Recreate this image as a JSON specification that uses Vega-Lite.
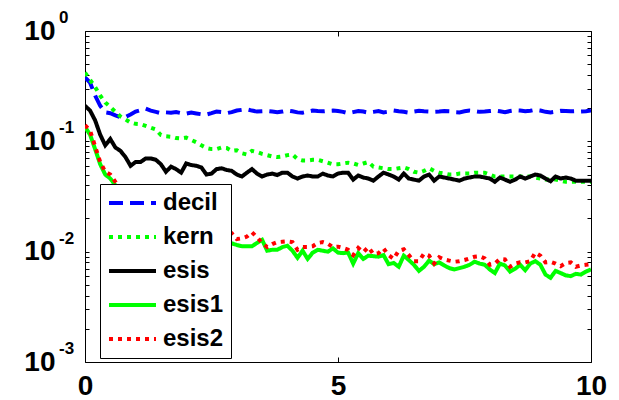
{
  "$schema": "https://vega.github.io/schema/vega-lite/v6.json",
  "width": 506,
  "height": 331,
  "autosize": {"type": "none"},
  "padding": {"left": 85, "top": 31, "right": 28, "bottom": 38},
  "background": "white",
  "config": {
    "view": {"stroke": null},
    "axis": {"domainColor": "black", "domainWidth": 1, "tickColor": "black", "tickWidth": 1, "grid": false, "labelFont": "Liberation Sans", "labelFontWeight": "bold", "labelFontSize": 28, "labelColor": "black"}
  },
  "layer": [
    {
      "data": {"values": [
        {"x":0,"decil":0.38,"kern":0.42,"esis":0.21,"esis1":0.135,"esis2":0.14},
        {"x":0.1,"decil":0.34,"kern":0.36,"esis":0.19,"esis1":0.115,"esis2":0.125},
        {"x":0.2,"decil":0.26,"kern":0.31,"esis":0.155,"esis1":0.085,"esis2":0.09},
        {"x":0.3,"decil":0.21,"kern":0.26,"esis":0.115,"esis1":0.062,"esis2":0.065},
        {"x":0.4,"decil":0.183,"kern":0.225,"esis":0.092,"esis1":0.05,"esis2":0.053},
        {"x":0.5,"decil":0.18,"kern":0.205,"esis":0.105,"esis1":0.046,"esis2":0.05},
        {"x":0.6,"decil":0.172,"kern":0.185,"esis":0.088,"esis1":0.04,"esis2":0.043},
        {"x":0.7,"decil":0.166,"kern":0.168,"esis":0.082,"esis1":0.035,"esis2":0.037},
        {"x":0.8,"decil":0.166,"kern":0.158,"esis":0.072,"esis1":0.03,"esis2":0.032},
        {"x":0.9,"decil":0.175,"kern":0.148,"esis":0.06,"esis1":0.027,"esis2":0.029},
        {"x":1,"decil":0.186,"kern":0.144,"esis":0.065,"esis1":0.024,"esis2":0.026},
        {"x":1.1,"decil":0.192,"kern":0.143,"esis":0.065,"esis1":0.022,"esis2":0.024},
        {"x":1.2,"decil":0.198,"kern":0.138,"esis":0.07,"esis1":0.021,"esis2":0.022},
        {"x":1.3,"decil":0.19,"kern":0.133,"esis":0.07,"esis1":0.019,"esis2":0.021},
        {"x":1.4,"decil":0.185,"kern":0.128,"esis":0.068,"esis1":0.018,"esis2":0.02},
        {"x":1.5,"decil":0.18,"kern":0.114,"esis":0.062,"esis1":0.017,"esis2":0.019},
        {"x":1.6,"decil":0.183,"kern":0.111,"esis":0.053,"esis1":0.016,"esis2":0.018},
        {"x":1.7,"decil":0.182,"kern":0.11,"esis":0.059,"esis1":0.0155,"esis2":0.0175},
        {"x":1.8,"decil":0.184,"kern":0.107,"esis":0.056,"esis1":0.015,"esis2":0.017},
        {"x":1.9,"decil":0.18,"kern":0.106,"esis":0.052,"esis1":0.0145,"esis2":0.0165},
        {"x":2,"decil":0.178,"kern":0.108,"esis":0.063,"esis1":0.014,"esis2":0.016},
        {"x":2.1,"decil":0.182,"kern":0.103,"esis":0.061,"esis1":0.0135,"esis2":0.0155},
        {"x":2.2,"decil":0.179,"kern":0.098,"esis":0.06,"esis1":0.013,"esis2":0.015},
        {"x":2.3,"decil":0.176,"kern":0.092,"esis":0.058,"esis1":0.0128,"esis2":0.0148},
        {"x":2.4,"decil":0.175,"kern":0.087,"esis":0.05,"esis1":0.0125,"esis2":0.0146},
        {"x":2.5,"decil":0.18,"kern":0.085,"esis":0.051,"esis1":0.0123,"esis2":0.0145},
        {"x":2.6,"decil":0.186,"kern":0.085,"esis":0.056,"esis1":0.0122,"esis2":0.0145},
        {"x":2.7,"decil":0.184,"kern":0.088,"esis":0.057,"esis1":0.012,"esis2":0.0146},
        {"x":2.8,"decil":0.18,"kern":0.087,"esis":0.055,"esis1":0.0119,"esis2":0.0147},
        {"x":2.9,"decil":0.184,"kern":0.082,"esis":0.054,"esis1":0.0119,"esis2":0.0147},
        {"x":3,"decil":0.19,"kern":0.083,"esis":0.05,"esis1":0.0115,"esis2":0.013},
        {"x":3.1,"decil":0.193,"kern":0.078,"esis":0.048,"esis1":0.0112,"esis2":0.0132},
        {"x":3.2,"decil":0.195,"kern":0.076,"esis":0.052,"esis1":0.0112,"esis2":0.0137},
        {"x":3.3,"decil":0.19,"kern":0.082,"esis":0.056,"esis1":0.0112,"esis2":0.015},
        {"x":3.4,"decil":0.186,"kern":0.08,"esis":0.051,"esis1":0.012,"esis2":0.0135},
        {"x":3.5,"decil":0.187,"kern":0.077,"esis":0.048,"esis1":0.0128,"esis2":0.012},
        {"x":3.6,"decil":0.188,"kern":0.075,"esis":0.05,"esis1":0.0102,"esis2":0.011},
        {"x":3.7,"decil":0.186,"kern":0.073,"esis":0.051,"esis1":0.0104,"esis2":0.0117},
        {"x":3.8,"decil":0.184,"kern":0.072,"esis":0.0495,"esis1":0.0104,"esis2":0.0122},
        {"x":3.9,"decil":0.186,"kern":0.073,"esis":0.052,"esis1":0.011,"esis2":0.0123},
        {"x":4,"decil":0.19,"kern":0.075,"esis":0.052,"esis1":0.0113,"esis2":0.0124},
        {"x":4.1,"decil":0.187,"kern":0.076,"esis":0.048,"esis1":0.0102,"esis2":0.0122},
        {"x":4.2,"decil":0.183,"kern":0.069,"esis":0.046,"esis1":0.0088,"esis2":0.0104},
        {"x":4.3,"decil":0.182,"kern":0.067,"esis":0.048,"esis1":0.0102,"esis2":0.011},
        {"x":4.4,"decil":0.186,"kern":0.067,"esis":0.049,"esis1":0.0086,"esis2":0.011},
        {"x":4.5,"decil":0.19,"kern":0.068,"esis":0.048,"esis1":0.0098,"esis2":0.0112},
        {"x":4.6,"decil":0.188,"kern":0.068,"esis":0.048,"esis1":0.0104,"esis2":0.012},
        {"x":4.7,"decil":0.187,"kern":0.066,"esis":0.051,"esis1":0.0102,"esis2":0.0122},
        {"x":4.8,"decil":0.189,"kern":0.064,"esis":0.049,"esis1":0.01,"esis2":0.0118},
        {"x":4.9,"decil":0.19,"kern":0.062,"esis":0.048,"esis1":0.0107,"esis2":0.011},
        {"x":5,"decil":0.188,"kern":0.062,"esis":0.051,"esis1":0.0098,"esis2":0.0111},
        {"x":5.1,"decil":0.185,"kern":0.063,"esis":0.052,"esis1":0.0097,"esis2":0.0108},
        {"x":5.2,"decil":0.18,"kern":0.064,"esis":0.052,"esis1":0.0098,"esis2":0.0104},
        {"x":5.3,"decil":0.184,"kern":0.063,"esis":0.045,"esis1":0.0078,"esis2":0.0093},
        {"x":5.4,"decil":0.188,"kern":0.061,"esis":0.049,"esis1":0.0097,"esis2":0.0108},
        {"x":5.5,"decil":0.186,"kern":0.063,"esis":0.047,"esis1":0.0086,"esis2":0.0099},
        {"x":5.6,"decil":0.182,"kern":0.065,"esis":0.046,"esis1":0.0092,"esis2":0.011},
        {"x":5.7,"decil":0.185,"kern":0.059,"esis":0.044,"esis1":0.0091,"esis2":0.0095},
        {"x":5.8,"decil":0.188,"kern":0.058,"esis":0.048,"esis1":0.009,"esis2":0.0097},
        {"x":5.9,"decil":0.183,"kern":0.057,"esis":0.052,"esis1":0.0093,"esis2":0.0107},
        {"x":6,"decil":0.186,"kern":0.056,"esis":0.05,"esis1":0.0077,"esis2":0.0093},
        {"x":6.1,"decil":0.19,"kern":0.056,"esis":0.048,"esis1":0.0079,"esis2":0.0086},
        {"x":6.2,"decil":0.187,"kern":0.057,"esis":0.045,"esis1":0.0073,"esis2":0.0102},
        {"x":6.3,"decil":0.185,"kern":0.058,"esis":0.051,"esis1":0.0092,"esis2":0.0105},
        {"x":6.4,"decil":0.182,"kern":0.056,"esis":0.046,"esis1":0.0084,"esis2":0.0093},
        {"x":6.5,"decil":0.186,"kern":0.053,"esis":0.045,"esis1":0.0076,"esis2":0.0082},
        {"x":6.6,"decil":0.189,"kern":0.052,"esis":0.044,"esis1":0.0067,"esis2":0.0082},
        {"x":6.7,"decil":0.187,"kern":0.054,"esis":0.048,"esis1":0.0073,"esis2":0.0096},
        {"x":6.8,"decil":0.186,"kern":0.057,"esis":0.05,"esis1":0.0083,"esis2":0.0092},
        {"x":6.9,"decil":0.185,"kern":0.054,"esis":0.044,"esis1":0.0077,"esis2":0.0078},
        {"x":7,"decil":0.186,"kern":0.052,"esis":0.048,"esis1":0.008,"esis2":0.0089},
        {"x":7.1,"decil":0.188,"kern":0.051,"esis":0.047,"esis1":0.0075,"esis2":0.0085},
        {"x":7.2,"decil":0.187,"kern":0.05,"esis":0.046,"esis1":0.0071,"esis2":0.0083},
        {"x":7.3,"decil":0.184,"kern":0.05,"esis":0.045,"esis1":0.0069,"esis2":0.0081},
        {"x":7.4,"decil":0.183,"kern":0.051,"esis":0.044,"esis1":0.0071,"esis2":0.0082},
        {"x":7.5,"decil":0.187,"kern":0.051,"esis":0.046,"esis1":0.0073,"esis2":0.0084},
        {"x":7.6,"decil":0.19,"kern":0.051,"esis":0.047,"esis1":0.0076,"esis2":0.0087},
        {"x":7.7,"decil":0.188,"kern":0.052,"esis":0.048,"esis1":0.0081,"esis2":0.009},
        {"x":7.8,"decil":0.185,"kern":0.052,"esis":0.048,"esis1":0.0078,"esis2":0.0091},
        {"x":7.9,"decil":0.186,"kern":0.052,"esis":0.047,"esis1":0.0076,"esis2":0.0087},
        {"x":8,"decil":0.188,"kern":0.05,"esis":0.046,"esis1":0.0069,"esis2":0.0076},
        {"x":8.1,"decil":0.19,"kern":0.048,"esis":0.043,"esis1":0.0064,"esis2":0.0078},
        {"x":8.2,"decil":0.187,"kern":0.048,"esis":0.047,"esis1":0.0078,"esis2":0.0086},
        {"x":8.3,"decil":0.184,"kern":0.048,"esis":0.045,"esis1":0.0075,"esis2":0.0085},
        {"x":8.4,"decil":0.188,"kern":0.048,"esis":0.043,"esis1":0.0066,"esis2":0.0073},
        {"x":8.5,"decil":0.191,"kern":0.048,"esis":0.045,"esis1":0.007,"esis2":0.0078},
        {"x":8.6,"decil":0.19,"kern":0.048,"esis":0.048,"esis1":0.0076,"esis2":0.008},
        {"x":8.7,"decil":0.187,"kern":0.048,"esis":0.046,"esis1":0.0068,"esis2":0.008},
        {"x":8.8,"decil":0.189,"kern":0.048,"esis":0.048,"esis1":0.0078,"esis2":0.0082},
        {"x":8.9,"decil":0.193,"kern":0.047,"esis":0.05,"esis1":0.0082,"esis2":0.0098},
        {"x":9,"decil":0.19,"kern":0.046,"esis":0.049,"esis1":0.0076,"esis2":0.0092},
        {"x":9.1,"decil":0.185,"kern":0.045,"esis":0.046,"esis1":0.0062,"esis2":0.008},
        {"x":9.2,"decil":0.183,"kern":0.045,"esis":0.0435,"esis1":0.0058,"esis2":0.0081},
        {"x":9.3,"decil":0.186,"kern":0.045,"esis":0.048,"esis1":0.0067,"esis2":0.0078},
        {"x":9.4,"decil":0.189,"kern":0.044,"esis":0.046,"esis1":0.0064,"esis2":0.0074},
        {"x":9.5,"decil":0.188,"kern":0.043,"esis":0.047,"esis1":0.0061,"esis2":0.0079},
        {"x":9.6,"decil":0.187,"kern":0.043,"esis":0.046,"esis1":0.006,"esis2":0.008},
        {"x":9.7,"decil":0.188,"kern":0.043,"esis":0.044,"esis1":0.0063,"esis2":0.0073},
        {"x":9.8,"decil":0.186,"kern":0.043,"esis":0.044,"esis1":0.0062,"esis2":0.0075},
        {"x":9.9,"decil":0.187,"kern":0.043,"esis":0.044,"esis1":0.0066,"esis2":0.0076},
        {"x":10,"decil":0.19,"kern":0.043,"esis":0.044,"esis1":0.0069,"esis2":0.0077}
      ]},
      "transform": [{"fold": ["decil", "kern", "esis", "esis1", "esis2"], "as": ["series", "value"]}],
      "mark": {"type": "line", "strokeWidth": 4, "strokeCap": "butt", "clip": true},
      "encoding": {
        "x": {"field": "x", "type": "quantitative",
          "scale": {"domain": [0, 10], "nice": false, "zero": false},
          "axis": {"orient": "bottom", "values": [0, 5, 10], "tickSize": -5, "labelPadding": 15, "labelFlush": false, "labelOverlap": false, "title": null}},
        "y": {"field": "value", "type": "quantitative",
          "scale": {"type": "log", "domain": [0.001, 1], "nice": false},
          "axis": {"orient": "left", "values": [0.001,0.002,0.003,0.004,0.005,0.006,0.007,0.008,0.009,0.01,0.02,0.03,0.04,0.05,0.06,0.07,0.08,0.09,0.1,0.2,0.3,0.4,0.5,0.6,0.7,0.8,0.9,1],
            "tickSize": -4, "labelPadding": 34, "labelExpr": "indexof([0.001,0.01,0.1,1], datum.value) >= 0 ? '10' : ''", "labelOverlap": false, "labelFlush": false, "labelBaseline": "middle", "title": null}},
        "color": {"field": "series", "type": "nominal",
          "scale": {"domain": ["decil", "kern", "esis", "esis1", "esis2"], "range": ["#0000ff", "#00ff00", "#000000", "#00ff00", "#ff0000"]},
          "legend": {"title": null, "orient": "none", "legendX": 15, "legendY": 153, "direction": "vertical", "symbolType": "stroke", "symbolSize": 2209, "symbolStrokeWidth": 4, "clipHeight": 24, "rowPadding": 10, "padding": 7, "labelOffset": 5, "labelFont": "Liberation Sans", "labelFontWeight": "bold", "labelFontSize": 24, "labelColor": "black", "labelLimit": 300, "fillColor": "white", "strokeColor": "black"}},
        "strokeDash": {"field": "series", "type": "nominal",
          "scale": {"domain": ["decil", "kern", "esis", "esis1", "esis2"], "range": [[14, 7], [4, 5], [1, 0], [1, 0], [4, 5]]},
          "legend": {"title": null, "orient": "none", "legendX": 15, "legendY": 153, "direction": "vertical", "symbolType": "stroke", "symbolSize": 2209, "symbolStrokeWidth": 4, "clipHeight": 24, "rowPadding": 10, "padding": 7, "labelOffset": 5, "labelFont": "Liberation Sans", "labelFontWeight": "bold", "labelFontSize": 24, "labelColor": "black", "labelLimit": 300, "fillColor": "white", "strokeColor": "black"}}
      }
    },
    {
      "data": {"values": [{"v": 1, "e": "0"}, {"v": 0.1, "e": "-1"}, {"v": 0.01, "e": "-2"}, {"v": 0.001, "e": "-3"}]},
      "mark": {"type": "text", "align": "left", "baseline": "alphabetic", "dx": -26, "dy": -8, "font": "Liberation Sans", "fontWeight": "bold", "fontSize": 17, "color": "black", "clip": false},
      "encoding": {
        "x": {"datum": 0, "type": "quantitative",
          "axis": {"orient": "top", "values": [0, 5, 10], "tickSize": -5, "labels": false, "title": null}},
        "y": {"field": "v", "type": "quantitative",
          "axis": {"orient": "right", "values": [0.001,0.002,0.003,0.004,0.005,0.006,0.007,0.008,0.009,0.01,0.02,0.03,0.04,0.05,0.06,0.07,0.08,0.09,0.1,0.2,0.3,0.4,0.5,0.6,0.7,0.8,0.9,1],
            "tickSize": -4, "labels": false, "title": null}},
        "text": {"field": "e"}
      }
    }
  ],
  "resolve": {"axis": {"x": "independent", "y": "independent"}}
}
